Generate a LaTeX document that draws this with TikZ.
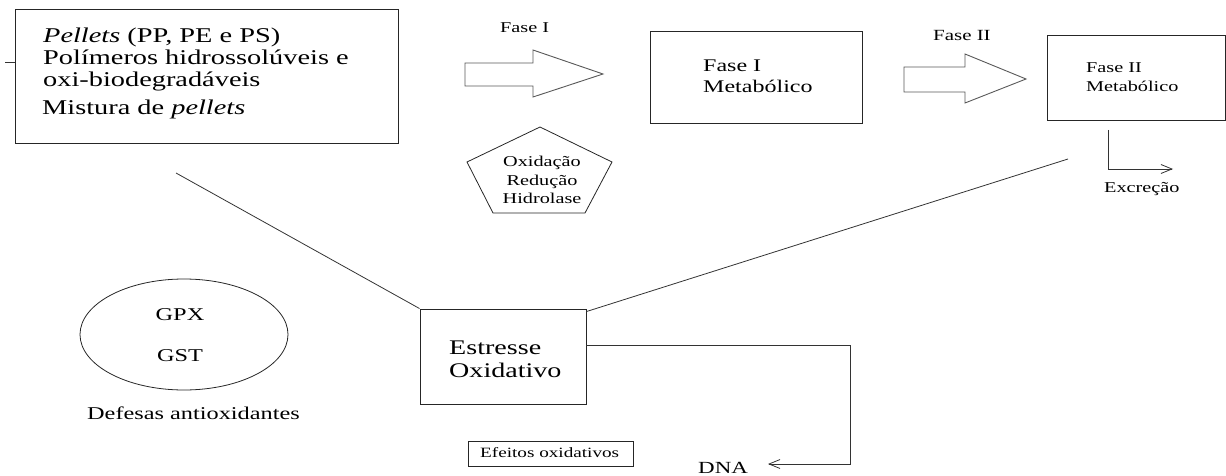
\documentclass[tikz,border=0pt]{standalone}
\usepackage{fontspec}
\setmainfont{Liberation Serif}[FakeStretch=1.35]
\usetikzlibrary{arrows.meta,shapes.geometric}
\newcommand\fsz[1]{\fontsize{#1}{#1}\selectfont}
\begin{document}
\begin{tikzpicture}[x=1pt,y=-1pt,
  box/.style={draw=black!85,line width=0.9pt,rectangle,inner sep=0pt},
  txt/.style={inner sep=0pt,anchor=base west},
  ctxt/.style={inner sep=0pt,anchor=base},
  conn/.style={draw=black!80,line width=0.8pt},
  barb/.style={-{Straight Barb[length=11pt,width=9pt,line width=0.8pt]}},
  blockarrow/.style={draw=black!65,line width=0.9pt,fill=white}]
\useasboundingbox (0,0) rectangle (1226,476);

% boxes
\node[box,minimum width=383pt,minimum height=134pt] (src) at (206.5,76) {};
\node[box,minimum width=212pt,minimum height=92pt] (f1) at (756,77) {};
\node[box,minimum width=178pt,minimum height=85pt] (f2) at (1136,77.5) {};
\node[box,minimum width=166pt,minimum height=95pt] (est) at (503,356.5) {};
\node[box,minimum width=165pt,minimum height=25pt] (efe) at (550.5,453.5) {};
\node[draw=black!85,line width=0.8pt,ellipse,minimum width=208pt,minimum height=111pt,inner sep=0pt] (def) at (184,334.5) {};

% pentagon
\draw[draw=black!85,line width=0.8pt] (540,127) -- (612,162) -- (585,213) -- (493,213) -- (467,162) -- cycle;

% block arrows
\draw[blockarrow] (465,63) -- (533,63) -- (533,50) -- (603,74) -- (533,97) -- (533,86) -- (465,86) -- cycle;
\draw[blockarrow] (904,67) -- (965,67) -- (965,54) -- (1026,79) -- (965,103) -- (965,92) -- (904,92) -- cycle;

% texts
\node[txt,font=\fsz{21}] (t1) at (43,43) {\textit{Pellets} (PP, PE e PS)};
\node[txt,font=\fsz{21}] (t2) at (43,65) {Polímeros hidrossolúveis e};
\node[txt,font=\fsz{21}] (t3) at (43,87) {oxi-biodegradáveis};
\node[txt,font=\fsz{21}] (t4) at (42,115) {Mistura de \textit{pellets}};

\node[txt,font=\fsz{15}] (lf1) at (500,33) {Fase I};
\node[txt,font=\fsz{15.5}] (lf2) at (933,41) {Fase II};

\node[txt,font=\fsz{17.8}] (f1a) at (703,72) {Fase I};
\node[txt,font=\fsz{17.8}] (f1b) at (703,93) {Metabólico};

\node[txt,font=\fsz{15}] (f2a) at (1086,73) {Fase II};
\node[txt,font=\fsz{15}] (f2b) at (1086,92) {Metabólico};

\node[ctxt,font=\fsz{15}] (p1) at (542,167) {Oxidação};
\node[ctxt,font=\fsz{15}] (p2) at (542,185) {Redução};
\node[ctxt,font=\fsz{15}] (p3) at (542,203) {Hidrolase};

\node[txt,font=\fsz{15}] (exc) at (1104,192) {Excreção};

\node[txt,font=\fsz{20.8}] (e1) at (449,354) {Estresse};
\node[txt,font=\fsz{20.8}] (e2) at (449,377) {Oxidativo};

\node[txt,font=\fsz{14.2}] (eft) at (480,457) {Efeitos oxidativos};

\node[ctxt,font=\fsz{18}] (gpx) at (180,320) {GPX};
\node[ctxt,font=\fsz{18}] (gst) at (180,361) {GST};
\node[txt,font=\fsz{18}] (dfa) at (87,419) {Defesas antioxidantes};

\node[txt,font=\fsz{17}] (dna) at (698,473) {DNA};

% connectors
\coordinate (tick) at (5,62);
\draw[conn] (tick) -- (src.west |- tick);

\coordinate (l1) at (176,173);
\draw[conn] (l1) -- (est.north west);

\coordinate (l2) at (1068,159);
\draw[conn] ([yshift=-3pt]est.north east) -- (l2);

\coordinate (xs) at (1108,130);
\coordinate (xe) at (1173,169);
\draw[conn,barb] (xs) -- (xs |- xe) -- (xe);

\coordinate (dc) at (850,345);
\coordinate (da) at (768,464);
\draw[conn,barb] (est.east |- dc) -- (dc) -- (dc |- da) -- (da);
\end{tikzpicture}
\end{document}
